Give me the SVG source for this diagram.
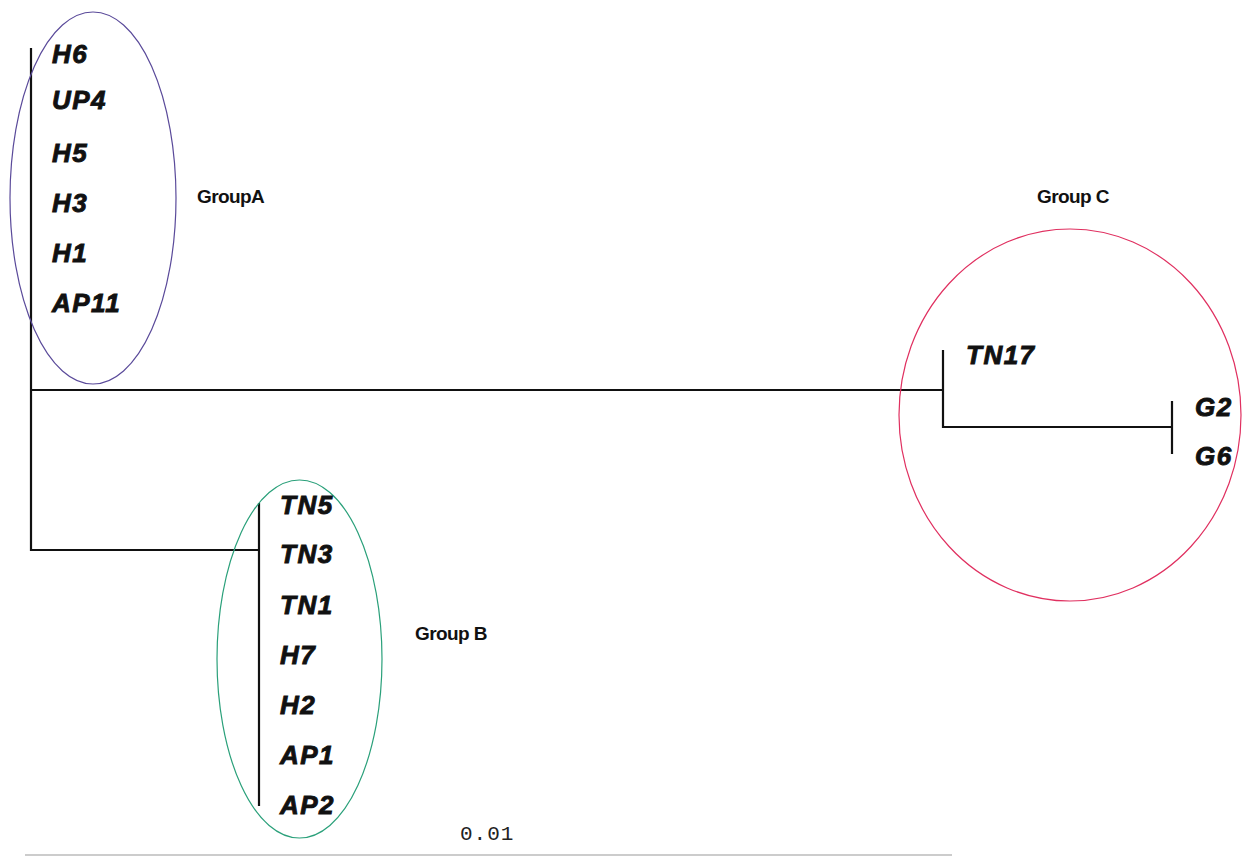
<svg xmlns="http://www.w3.org/2000/svg" width="1246" height="857" viewBox="0 0 1246 857">
<style>
.taxon{font-family:"Liberation Sans",Arial,sans-serif;font-weight:bold;font-style:italic;font-size:26px;letter-spacing:1.5px;fill:#111;stroke:#111;stroke-width:0.9}
.grp{font-family:"Liberation Sans",Arial,sans-serif;font-weight:bold;font-size:19px;letter-spacing:-0.6px;fill:#111}
.br{stroke:#111;stroke-width:2.2;fill:none}
.scale{font-family:"Liberation Mono","Courier New",monospace;font-size:21px;letter-spacing:1px;fill:#222}
</style>
<rect width="1246" height="857" fill="#fff"/>
<g id="connectors">
<line class="br" x1="31" y1="48" x2="31" y2="551"/>
<line class="br" x1="31" y1="390" x2="943" y2="390"/>
<line class="br" x1="31" y1="550" x2="259" y2="550"/>
<line class="br" x1="259" y1="503" x2="259" y2="806"/>
<line class="br" x1="943" y1="350" x2="943" y2="428"/>
<line class="br" x1="943" y1="427" x2="1172" y2="427"/>
<line class="br" x1="1172" y1="401" x2="1172" y2="454"/>
</g>
<g id="groupA">
<ellipse cx="93" cy="198" rx="83" ry="186" fill="none" stroke="#5a4a9a" stroke-width="1.2"/>
<text class="taxon" x="52" y="63">H6</text>
<text class="taxon" x="52" y="109">UP4</text>
<text class="taxon" x="52" y="162">H5</text>
<text class="taxon" x="52" y="212">H3</text>
<text class="taxon" x="52" y="262">H1</text>
<text class="taxon" x="52" y="312">AP11</text>
<text class="grp" x="197" y="203">GroupA</text>
</g>
<g id="groupB">
<ellipse cx="299.5" cy="659" rx="82.5" ry="179" fill="none" stroke="#2aa07a" stroke-width="1.2"/>
<text class="taxon" x="280" y="514">TN5</text>
<text class="taxon" x="280" y="563">TN3</text>
<text class="taxon" x="280" y="614">TN1</text>
<text class="taxon" x="280" y="664">H7</text>
<text class="taxon" x="280" y="714">H2</text>
<text class="taxon" x="280" y="764">AP1</text>
<text class="taxon" x="280" y="814">AP2</text>
<text class="grp" x="415" y="640">Group B</text>
</g>
<g id="groupC">
<ellipse cx="1070" cy="415" rx="171" ry="186" fill="none" stroke="#e03060" stroke-width="1.2"/>
<text class="taxon" x="966" y="364">TN17</text>
<text class="taxon" x="1195" y="416">G2</text>
<text class="taxon" x="1195" y="465">G6</text>
<text class="grp" x="1037" y="203">Group C</text>
</g>
<g id="scale">
<text class="scale" x="460" y="840">0.01</text>
<line x1="25" y1="855" x2="952" y2="855" stroke="#ccc" stroke-width="2"/>
</g>
</svg>
